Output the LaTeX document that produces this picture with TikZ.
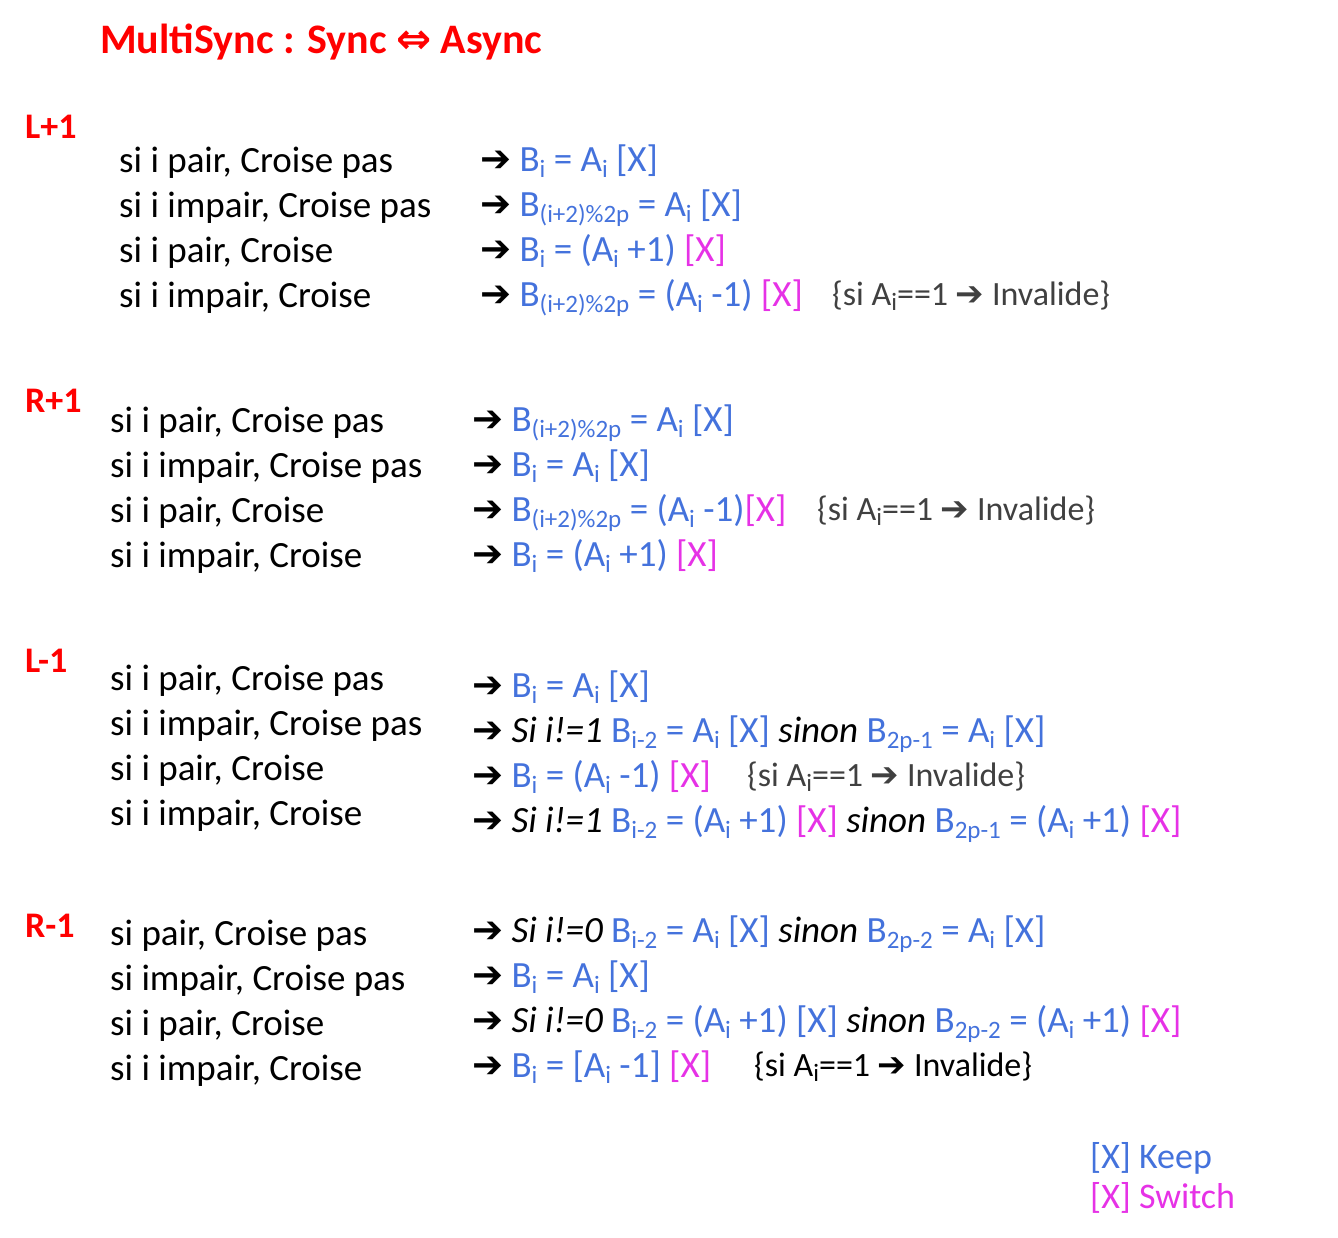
\documentclass[tikz,border=0pt]{standalone}
\usepackage{fontspec}
\setmainfont{Carlito}
\newfontfamily\symfont{DejaVu Sans}
\definecolor{keepblue}{RGB}{68,114,220}
\definecolor{switchpink}{RGB}{230,50,230}
\definecolor{notegray}{RGB}{64,64,64}
\newcommand{\ar}{{\symfont\bfseries ➔}}
\newcommand{\sbs}[1]{\raisebox{-0.35ex}{\fontsize{25}{25}\selectfont #1}}
\newcommand{\K}{{\color{keepblue}[X]}}
\newcommand{\Sw}{{\color{switchpink}[X]}}
\newcommand{\inv}{{\fontsize{34}{38}\selectfont\color{notegray}\{si A\sbs{i}==1 \ar{} Invalide\}}}
\tikzset{
  txt/.style={anchor=base west, inner sep=0pt, font=\fontsize{37}{42}\selectfont},
  frm/.style={txt, text=keepblue},
  sect/.style={anchor=base west, inner sep=0pt, text=red, font=\fontsize{36}{40}\selectfont\bfseries},
}
\begin{document}
\begin{tikzpicture}[x=1pt,y=-1pt]
\useasboundingbox (0,0) rectangle (1338,1237);
% title
\node[sect, font=\fontsize{42}{48}\selectfont\bfseries] (title) at (100,53) {MultiSync : Sync {\symfont ⇔} Async};

% L+1
\node[sect] (lp) at (25,138) {L+1};
\node[txt] (lp1) at (119,172) {si i pair, Croise pas};
\node[txt] (lp2) at (119,217) {si i impair, Croise pas};
\node[txt] (lp3) at (119,262) {si i pair, Croise};
\node[txt] (lp4) at (119,307) {si i impair, Croise};
\node[frm] (lpf1) at (480,171) {{\color{black}\ar} B\sbs{i} = A\sbs{i} \K};
\node[frm] (lpf2) at (480,216) {{\color{black}\ar} B\sbs{(i+2)\%2p} = A\sbs{i} \K};
\node[frm] (lpf3) at (480,261) {{\color{black}\ar} B\sbs{i} = (A\sbs{i} +1) \Sw};
\node[frm] (lpf4) at (480,306) {{\color{black}\ar} B\sbs{(i+2)\%2p} = (A\sbs{i} -1) \Sw};
\node[txt] (lpn4) at (832,305) {\inv};

% R+1
\node[sect] (rp) at (25,412) {R+1};
\node[txt] (rp1) at (110,432) {si i pair, Croise pas};
\node[txt] (rp2) at (110,477) {si i impair, Croise pas};
\node[txt] (rp3) at (110,522) {si i pair, Croise};
\node[txt] (rp4) at (110,567) {si i impair, Croise};
\node[frm] (rpf1) at (472,431) {{\color{black}\ar} B\sbs{(i+2)\%2p} = A\sbs{i} \K};
\node[frm] (rpf2) at (472,476) {{\color{black}\ar} B\sbs{i} = A\sbs{i} \K};
\node[frm] (rpf3) at (472,521) {{\color{black}\ar} B\sbs{(i+2)\%2p} = (A\sbs{i} -1)\Sw};
\node[frm] (rpf4) at (472,566) {{\color{black}\ar} B\sbs{i} = (A\sbs{i} +1) \Sw};
\node[txt] (rpn3) at (817,520) {\inv};

% L-1
\node[sect] (lm) at (25,672) {L-1};
\node[txt] (lm1) at (110,690) {si i pair, Croise pas};
\node[txt] (lm2) at (110,735) {si i impair, Croise pas};
\node[txt] (lm3) at (110,780) {si i pair, Croise};
\node[txt] (lm4) at (110,825) {si i impair, Croise};
\node[frm] (lmf1) at (472,697) {{\color{black}\ar} B\sbs{i} = A\sbs{i} \K};
\node[frm] (lmf2) at (472,742) {{\color{black}\ar\ \itshape Si i!=1} B\sbs{i-2} = A\sbs{i} \K{} {\color{black}\itshape sinon} B\sbs{2p-1} = A\sbs{i} \K};
\node[frm] (lmf3) at (472,787) {{\color{black}\ar} B\sbs{i} = (A\sbs{i} -1) \Sw};
\node[frm] (lmf4) at (472,832) {{\color{black}\ar\ \itshape Si i!=1} B\sbs{i-2} = (A\sbs{i} +1) \Sw{} {\color{black}\itshape sinon} B\sbs{2p-1} = (A\sbs{i} +1) \Sw};
\node[txt] (lmn3) at (747,786) {\inv};

% R-1
\node[sect] (rm) at (25,937) {R-1};
\node[txt] (rm1) at (110,945) {si pair, Croise pas};
\node[txt] (rm2) at (110,990) {si impair, Croise pas};
\node[txt] (rm3) at (110,1035) {si i pair, Croise};
\node[txt] (rm4) at (110,1080) {si i impair, Croise};
\node[frm] (rmf1) at (472,942) {{\color{black}\ar\ \itshape Si i!=0} B\sbs{i-2} = A\sbs{i} \K{} {\color{black}\itshape sinon} B\sbs{2p-2} = A\sbs{i} \K};
\node[frm] (rmf2) at (472,987) {{\color{black}\ar} B\sbs{i} = A\sbs{i} \K};
\node[frm] (rmf3) at (472,1032) {{\color{black}\ar\ \itshape Si i!=0} B\sbs{i-2} = (A\sbs{i} +1) \K{} {\color{black}\itshape sinon} B\sbs{2p-2} = (A\sbs{i} +1) \Sw};
\node[frm] (rmf4) at (472,1077) {{\color{black}\ar} B\sbs{i} = [A\sbs{i} -1] \Sw};
\node[txt, text=black] (rmn4) at (754,1076) {\fontsize{34}{38}\selectfont\{si A\sbs{i}==1 \ar{} Invalide\}};

% legend
\node[frm, font=\fontsize{36}{40}\selectfont] (keep) at (1090,1168) {[X] Keep};
\node[txt, text=switchpink, font=\fontsize{36}{40}\selectfont] (switch) at (1090,1208) {[X] Switch};
\end{tikzpicture}
\end{document}
